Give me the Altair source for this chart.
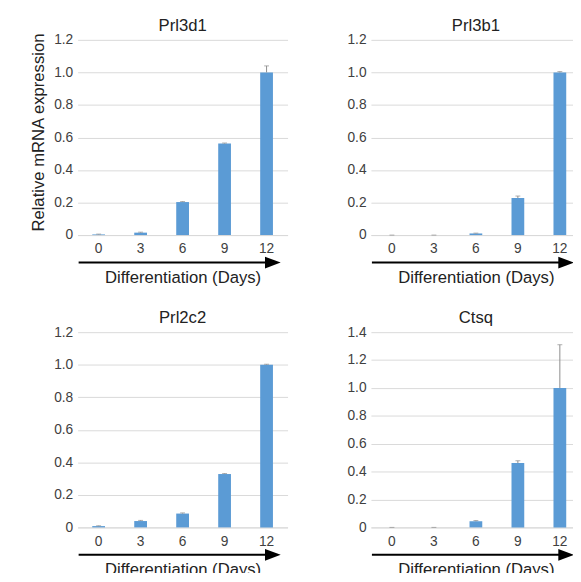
import altair as alt
import pandas as pd

DAYS = ["0", "3", "6", "9", "12"]

GENES = ["Prl3d1", "Prl3b1", "Prl2c2", "Ctsq"]
PRL3D1 = [0.004, 0.015, 0.203, 0.563, 1.0]
PRL3D1_ERR = [0.002, 0.003, 0.003, 0.003, 0.04]
PRL3B1 = [0.0, 0.0, 0.01, 0.228, 1.0]
PRL3B1_ERR = [0.0, 0.0, 0.002, 0.012, 0.005]
PRL2C2 = [0.008, 0.039, 0.085, 0.328, 1.0]
PRL2C2_ERR = [0.002, 0.004, 0.004, 0.003, 0.003]
CTSQ = [0.0, 0.0, 0.044, 0.461, 1.0]
CTSQ_ERR = [0.0, 0.0, 0.005, 0.017, 0.31]
YMAX = [1.2, 1.2, 1.2, 1.4]
YTICKS_12 = [0, 0.2, 0.4, 0.6, 0.8, 1.0, 1.2]
YTICKS_14 = [0, 0.2, 0.4, 0.6, 0.8, 1.0, 1.2, 1.4]

BLUE = "#5B9BD5"
GREY = "#8c8c8c"
GRID = "#d9d9d9"
FONT = "Liberation Sans"
W, H = 214, 199


def panel(name, vals, errs, ymax, ticks, ytitle):
    df = pd.DataFrame({"day": DAYS, "value": vals, "err": errs})
    df["top"] = df["value"] + df["err"]
    base = alt.Chart(df)
    xaxis = alt.Axis(
        title="Differentiation (Days)",
        labelAngle=0,
        ticks=False,
        grid=False,
        domainColor=GRID,
        labelPadding=7,
        titlePadding=14,
        labelFont=FONT,
        labelFontSize=14,
        labelColor="#404040",
        titleFont=FONT,
        titleFontSize=17,
        titleFontWeight="normal",
        titleColor="#222222",
    )
    yaxis = alt.Axis(
        values=ticks,
        tickCount=len(ticks),
        labelExpr="datum.value == 0 ? '0' : format(datum.value, '.1f')",
        labelOverlap=False,
        domain=False,
        ticks=False,
        grid=True,
        gridColor=GRID,
        labelPadding=5,
        titlePadding=6,
        titleY=94,
        labelFont=FONT,
        labelFontSize=14,
        labelColor="#404040",
        titleFont=FONT,
        titleFontSize=17,
        titleFontWeight="normal",
        titleColor="#222222",
    )
    yscale = alt.Scale(domain=[0, ymax], nice=False)
    x = alt.X("day:N", sort=DAYS, scale=alt.Scale(paddingInner=0, paddingOuter=0), axis=xaxis)
    ttl = ytitle if ytitle else None
    bars = base.mark_bar(size=13, color=BLUE).encode(
        x=x, y=alt.Y("value:Q", scale=yscale, axis=yaxis, title=ttl)
    )
    rule = base.mark_rule(color=GREY, strokeWidth=1).encode(
        x=x,
        y=alt.Y("value:Q", scale=yscale, axis=yaxis, title=ttl),
        y2="top:Q",
    )
    cap = base.mark_tick(color=GREY, thickness=1, size=5).encode(
        x=x, y=alt.Y("top:Q", scale=yscale, axis=yaxis, title=ttl)
    )
    one = alt.Chart(pd.DataFrame({"k": [0]}))
    shaft = one.mark_rule(color="black", strokeWidth=2).encode(
        x=alt.value(1), x2=alt.value(192), y=alt.value(227)
    )
    head = one.mark_point(
        shape="M-1,-0.75L1,0L-1,0.75Z", filled=True, color="black", opacity=1, size=256
    ).encode(x=alt.value(199), y=alt.value(227))
    title = one.mark_text(
        text=name,
        font=FONT,
        fontSize=17,
        color="#222222",
        align="center",
        baseline="alphabetic",
    ).encode(x=alt.value(W / 2), y=alt.value(-9))
    return alt.layer(bars, rule, cap, shaft, head, title).properties(width=W, height=H)


p1 = panel(GENES[0], PRL3D1, PRL3D1_ERR, YMAX[0], YTICKS_12, "Relative mRNA expression")
p2 = panel(GENES[1], PRL3B1, PRL3B1_ERR, YMAX[1], YTICKS_12, "")
p3 = panel(GENES[2], PRL2C2, PRL2C2_ERR, YMAX[2], YTICKS_12, "")
p4 = panel(GENES[3], CTSQ, CTSQ_ERR, YMAX[3], YTICKS_14, "")

chart = (
    alt.concat(p1, p2, p3, p4, columns=2, spacing={"row": 99, "column": 85}, bounds="flush")
    .properties(padding={"left": 22, "top": 4, "right": -8, "bottom": -10})
    .configure_view(stroke=None)
)

chart.save("out.html", embed_options={"renderer": "svg", "actions": False})
